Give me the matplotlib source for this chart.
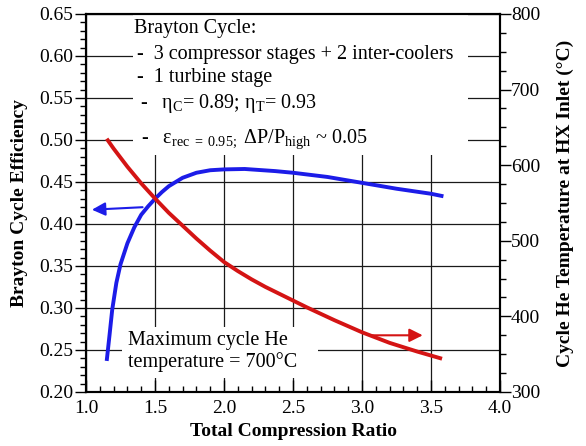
import numpy as np
import matplotlib
matplotlib.use("Agg")
import matplotlib.pyplot as plt
from matplotlib.patches import Rectangle
from matplotlib.ticker import MultipleLocator

plt.rcParams['font.family'] = 'Liberation Serif'
plt.rcParams['mathtext.fontset'] = 'custom'
plt.rcParams['mathtext.rm'] = 'Liberation Serif'
plt.rcParams['mathtext.it'] = 'Liberation Serif:italic'
plt.rcParams['mathtext.bf'] = 'Liberation Serif:bold'

# cycle efficiency vs total compression ratio
ratio_eff = [1.15, 1.17, 1.19, 1.22, 1.25, 1.30, 1.35, 1.40, 1.45, 1.50,
             1.55, 1.60, 1.70, 1.80, 1.90, 2.00, 2.15, 2.37, 2.50, 2.75, 3.00,
             3.25, 3.50, 3.59]
efficiency = [0.237, 0.267, 0.298, 0.330, 0.352, 0.377, 0.396, 0.411,
              0.421, 0.430, 0.438, 0.445, 0.455, 0.461, 0.464, 0.465, 0.4655,
              0.463, 0.461, 0.456, 0.449, 0.442, 0.436, 0.433]

# He temperature at HX inlet (deg C)
ratio_temp = [1.15, 1.20, 1.25, 1.30, 1.40, 1.50, 1.60, 1.70, 1.80, 1.90, 2.00,
              2.10, 2.20, 2.30, 2.40, 2.60, 2.80, 3.00, 3.20, 3.40, 3.58]
temperature = [635, 622, 610, 598, 576, 556, 537, 520, 503, 487, 472,
               460, 449, 439, 430, 412, 395, 379, 365, 353.5, 344]

blue = '#1c1ce8'
red = '#d41414'

fig = plt.figure(figsize=(5.86, 4.46), dpi=100)
ax = fig.add_axes([86/586, 1-392/446, 414/586, 378/446])
ax2 = ax.twinx()

ax.set_xlim(1.0, 4.0)
ax.set_ylim(0.20, 0.65)
ax2.set_ylim(300, 800)

ax.xaxis.set_major_locator(MultipleLocator(0.5))
ax.xaxis.set_minor_locator(MultipleLocator(0.1))
ax.yaxis.set_major_locator(MultipleLocator(0.05))
ax.yaxis.set_minor_locator(MultipleLocator(0.01))
ax2.yaxis.set_major_locator(MultipleLocator(100))
ax2.yaxis.set_minor_locator(MultipleLocator(25))

ax.set_axisbelow(True)
ax.grid(True, which='major', color='#1a1a1a', lw=0.9)

ax.tick_params(axis='x', which='major', direction='in', length=9, width=1.0,
               labelsize=14, pad=6, top=False)
ax.tick_params(axis='x', which='minor', direction='in', length=4, width=1.0,
               top=False)
ax.tick_params(axis='y', which='major', direction='out', length=8, width=1.0,
               labelsize=14, pad=1, right=False)
ax.tick_params(axis='y', which='minor', direction='out', length=4, width=1.0,
               right=False)
ax2.tick_params(axis='y', which='major', direction='out', length=8, width=1.0,
                labelsize=14, pad=0)
ax2.tick_params(axis='y', which='minor', direction='out', length=4, width=1.0)

for a in (ax, ax2):
    for s in a.spines.values():
        s.set_linewidth(1.5)

# white backing behind the annotations
ax.add_patch(Rectangle((1.34, 0.482), 2.43, 0.168, facecolor='white',
                       edgecolor='none', zorder=1))
ax.add_patch(Rectangle((1.26, 0.217), 1.42, 0.060, facecolor='white',
                       edgecolor='none', zorder=1))

ax.plot(ratio_eff, efficiency, color=blue, lw=2.8, solid_capstyle='butt',
        zorder=2)
ax2.plot(ratio_temp, temperature, color=red, lw=2.8, solid_capstyle='butt')

ax.annotate('', xy=(1.043, 0.417), xytext=(1.41, 0.420),
            arrowprops=dict(arrowstyle='-|>', color=blue, lw=1.5,
                            mutation_scale=20, shrinkA=0, shrinkB=0))
ax2.annotate('', xy=(3.44, 375), xytext=(3.06, 375),
             arrowprops=dict(arrowstyle='-|>', color=red, lw=1.5,
                             mutation_scale=20, shrinkA=0, shrinkB=0))

fs = 14.5
ax.text(1.348, 0.627, 'Brayton Cycle:', fontsize=fs, va='baseline', zorder=3)
ax.text(1.370, 0.596, '-  3 compressor stages + 2 inter-coolers', fontsize=fs,
        va='baseline', zorder=3)
ax.text(1.370, 0.5694, '-  1 turbine stage', fontsize=fs, va='baseline',
        zorder=3)
ax.text(1.391, 0.5377, r'-   η$_{\rm C}$= 0.89; η$_{\rm T}$= 0.93',
        fontsize=fs, va='baseline', zorder=3)
ax.text(1.399, 0.497,
        r'-   ε$_{\rm rec\ =\ 0.95;}$ ΔP/P$_{\rm high}$ ~ 0.05',
        fontsize=fs, va='baseline', zorder=3)

ax.text(1.304, 0.256, 'Maximum cycle He', fontsize=fs, va='baseline', zorder=3)
ax.text(1.304, 0.230, 'temperature = 700°C', fontsize=fs, va='baseline',
        zorder=3)

ax.set_xlabel('Total Compression Ratio', fontsize=14, fontweight='bold',
              labelpad=4)
ax.set_ylabel('Brayton Cycle Efficiency', fontsize=14, fontweight='bold',
              labelpad=8)
ax2.set_ylabel('Cycle He Temperature at HX Inlet (°C)', fontsize=14,
               fontweight='bold', labelpad=12)

fig.savefig('out.png', dpi=100)
